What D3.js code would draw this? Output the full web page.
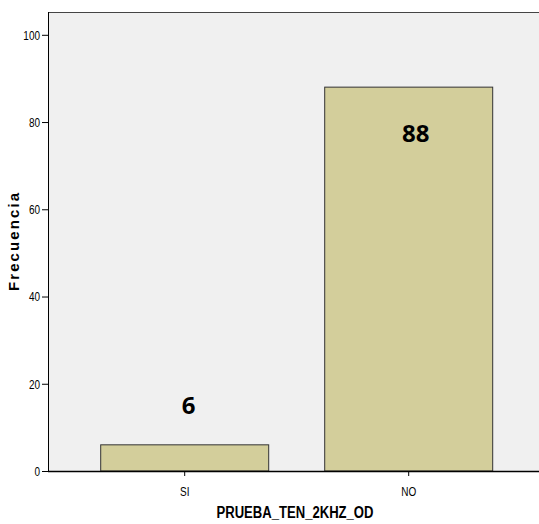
<!DOCTYPE html>
<html><head><meta charset="utf-8">
<script src="https://cdn.jsdelivr.net/npm/d3@7"></script>
<style>body{margin:0;background:#fff}svg{display:block}</style>
</head><body>
<svg id="c" width="539" height="524"></svg>
<script>
const categories = ["SI", "NO"];
const values = [6, 88];
const yTicks = [0, 20, 40, 60, 80, 100];
const xTitle = "PRUEBA_TEN_2KHZ_OD";
const yTitle = "Frecuencia";

(function () {
const svg = d3.select("#c");
const pL = 48, pT = 12, pR = 539, pB = 471;

const y = d3.scaleLinear().domain([0, 100]).range([pB, 34.8]);
const x = d3.scaleBand().domain(categories).range([72.7, 520.7]).paddingInner(0.25).paddingOuter(0.125);

svg.append("rect").attr("x", pL).attr("y", pT).attr("width", pR - pL).attr("height", pB - pT).attr("fill", "#f0f0f0");
svg.append("line").attr("x1", pL).attr("x2", pR).attr("y1", pT + 0.5).attr("y2", pT + 0.5).attr("stroke", "#444").attr("stroke-width", 1);

svg.selectAll("rect.bar").data(values).enter().append("rect").attr("class", "bar")
  .attr("x", (d, i) => x(categories[i]))
  .attr("y", d => y(d))
  .attr("width", x.bandwidth())
  .attr("height", d => pB - y(d))
  .attr("fill", "#d3ce9b").attr("stroke", "#333").attr("stroke-width", 1);

const font = "'Liberation Sans',Arial,sans-serif";

const yAxis = svg.append("g").attr("transform", `translate(${pL},0)`)
  .call(d3.axisLeft(y).tickValues(yTicks).tickSize(6).tickFormat(d3.format("d")));
yAxis.select(".domain").attr("stroke", "#000").attr("d", `M0.5,${pT}V${pB}`);
yAxis.selectAll(".tick line").attr("stroke", "#000");
yAxis.selectAll("text").attr("x", 0).attr("transform", "translate(-8,0) scale(0.74,1)")
  .attr("font-family", font).attr("font-size", 13.5).attr("fill", "#000");

const xAxis = svg.append("g").attr("transform", `translate(0,${pB})`)
  .call(d3.axisBottom(x).tickSize(5).tickPadding(10));
xAxis.select(".domain").attr("stroke", "#000").attr("stroke-width", 1.5).attr("d", `M${pL},0.5H${pR}`);
xAxis.selectAll(".tick line").attr("stroke", "#000");
xAxis.selectAll("text").attr("transform", "scale(0.74,1)")
  .attr("font-family", font).attr("font-size", 13.5).attr("fill", "#000");

svg.append("text").attr("x", 295).attr("y", 518).attr("text-anchor", "middle")
  .attr("font-family", font).attr("font-weight", "bold").attr("font-size", 16)
  .attr("textLength", 157).attr("lengthAdjust", "spacingAndGlyphs").text(xTitle);

svg.append("text").attr("transform", "translate(19,242) rotate(-90)").attr("text-anchor", "middle")
  .attr("font-family", font).attr("font-weight", "bold").attr("font-size", 15)
  .attr("textLength", 98).attr("lengthAdjust", "spacing").text(yTitle);

svg.selectAll("text.val").data(values).enter().append("text").attr("class", "val")
  .attr("x", (d, i) => x(categories[i]) + x.bandwidth() / 2 + (d < 20 ? 4 : 7))
  .attr("y", d => d < 20 ? y(d) - 31 : y(d) + 55)
  .attr("text-anchor", "middle")
  .attr("font-family", "'Noto Sans','Open Sans',sans-serif").attr("font-weight", "bold").attr("font-size", 24)
  .attr("fill", "#000").text(d => d);
})();
</script>
</body></html>
